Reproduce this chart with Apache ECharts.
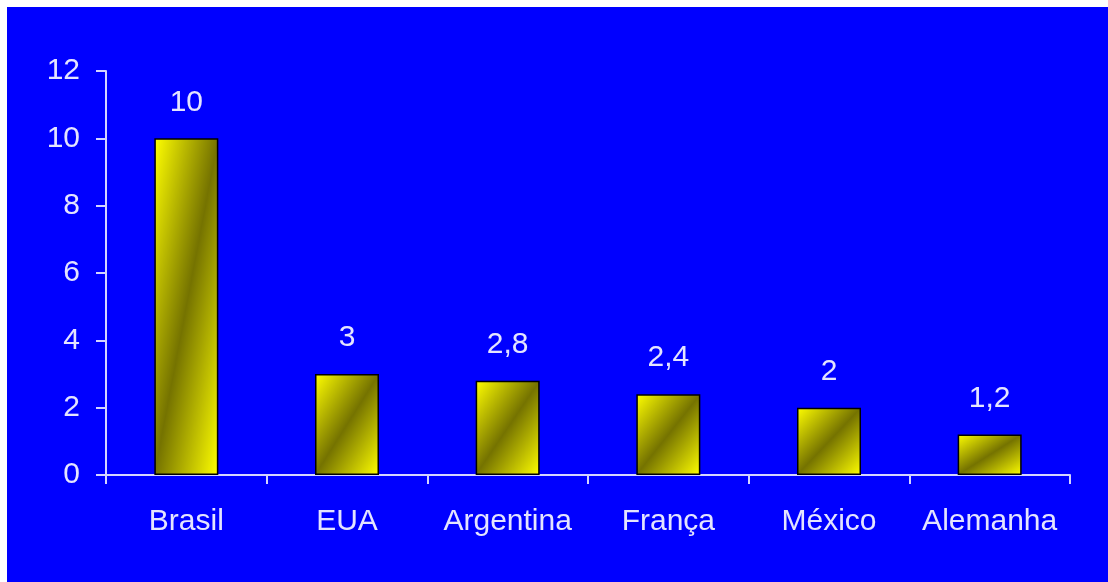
<!DOCTYPE html>
<html>
<head>
<meta charset="utf-8">
<script src="https://cdn.jsdelivr.net/npm/echarts@6/dist/echarts.min.js"></script>
<style>
  html, body { margin: 0; padding: 0; background: #ffffff; }
  #chart { position: absolute; left: 7px; top: 7px; width: 1101px; height: 575px; background: #0000ff; }
</style>
</head>
<body>
<div id="chart"></div>
<script>
const countries = ["Brasil", "EUA", "Argentina", "França", "México", "Alemanha"];
const values = [10, 3, 2.8, 2.4, 2, 1.2];
const yTicks = [0, 2, 4, 6, 8, 10, 12];

const textColor = "#e4e4ff";
const lineColor = "#d4d4ff";
const font = "'Liberation Sans', Arial, sans-serif";
const barWidth = 64;

const chart = echarts.init(document.getElementById("chart"));

function formatValue(v) {
  return String(v).replace(".", ",");
}

// Excel-style diagonal gradient: yellow corners, dark band along the anti-diagonal
function diagonalFill(w, h) {
  const d = h * h + w * w;
  return {
    type: "linear",
    x: 0,
    y: 0,
    x2: (2 * h * h) / d,
    y2: (2 * w * w) / d,
    colorStops: [
      { offset: 0, color: "#ffff00" },
      { offset: 0.5, color: "#757300" },
      { offset: 1, color: "#ffff00" }
    ]
  };
}

function buildOption(data) {
  return {
    animation: false,
    backgroundColor: "#0000ff",
    grid: { left: 99, right: 38, top: 64, bottom: 107 },
    xAxis: {
      type: "category",
      data: countries,
      boundaryGap: true,
      axisLine: { lineStyle: { color: lineColor, width: 2 } },
      axisTick: { show: true, interval: 0, length: 9, lineStyle: { color: lineColor, width: 2 } },
      axisLabel: { interval: 0, color: textColor, fontSize: 30, fontFamily: font, margin: 32 }
    },
    yAxis: {
      type: "value",
      min: yTicks[0],
      max: yTicks[yTicks.length - 1],
      interval: 2,
      axisLine: { show: true, lineStyle: { color: lineColor, width: 2 } },
      axisTick: { show: true, length: 10, lineStyle: { color: lineColor, width: 2 } },
      splitLine: { show: false },
      axisLabel: { color: textColor, fontSize: 30, fontFamily: font, margin: 26 }
    },
    series: [
      {
        type: "bar",
        barWidth: barWidth,
        data: data,
        itemStyle: { borderColor: "#000000", borderWidth: 1.5 },
        label: {
          show: true,
          position: "top",
          distance: 21,
          color: textColor,
          fontSize: 30,
          fontFamily: font,
          formatter: p => formatValue(p.value)
        }
      }
    ]
  };
}

chart.setOption(buildOption(values));

const y0 = chart.convertToPixel({ yAxisIndex: 0 }, 0);
const styled = values.map(v => {
  const h = Math.max(1, y0 - chart.convertToPixel({ yAxisIndex: 0 }, v));
  return { value: v, itemStyle: { color: diagonalFill(barWidth, h) } };
});
chart.setOption(buildOption(styled));
</script>
</body>
</html>
